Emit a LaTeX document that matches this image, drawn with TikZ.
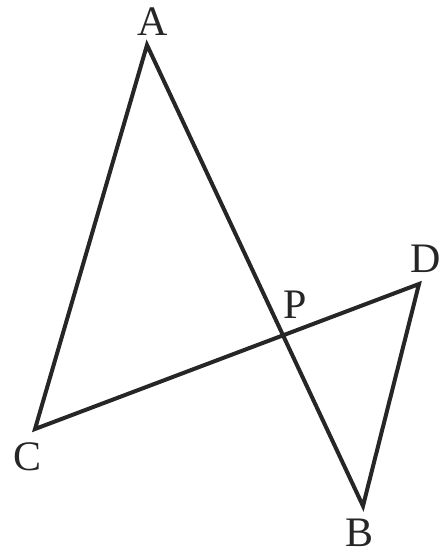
\documentclass[tikz,border=0pt]{standalone}
\usepackage{fontspec}
\setmainfont{Liberation Serif}
\usepackage{tikz}
\tikzstyle{label} = [inner sep=0pt, font=\fontsize{42}{42}\selectfont, text=black!85]
\tikzstyle{edge} = [line width=4pt, draw=black!85]

\begin{document}
\begin{tikzpicture}[x=1pt, y=-1pt]
  \useasboundingbox (0,0) rectangle (446,556);

  \coordinate (A) at (147,45);
  \coordinate (B) at (363,506);
  \coordinate (C) at (35,429);
  \coordinate (D) at (419,284);

  \node (labelA) [label] at (153,22) {A};
  \node (labelB) [label] at (360,533) {B};
  \node (labelC) [label] at (28,457) {C};
  \node (labelD) [label] at (426,259) {D};
  \node (labelP) [label] at (295,305) {P};

  \draw [edge] (A) -- (B) -- (D) -- (C) -- cycle;

\end{tikzpicture}
\end{document}
